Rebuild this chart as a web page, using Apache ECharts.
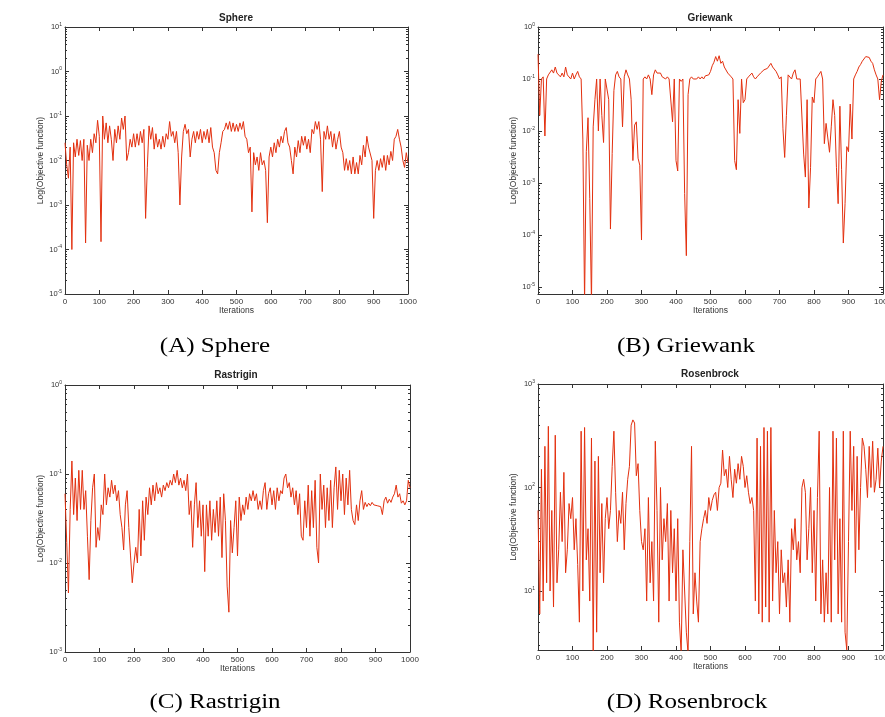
<!DOCTYPE html>
<html><head><meta charset="utf-8">
<script src="https://cdn.jsdelivr.net/npm/echarts@6/dist/echarts.min.js"></script>
<style>html,body{margin:0;padding:0;background:#fff}#c{width:885px;height:717px}</style>
</head><body><div id="c"></div>
<script>
// Objective values, one per 5 iterations (iteration = index * 5), 0..1000
const sphereValues = [
0.025,0.008,0.004,0.02,0.0001,0.025,0.012,0.03,0.013,0.028,0.01,0.03,0.00014,0.022,0.01,0.03,0.015,0.04,0.025,0.08,
0.035,0.00015,0.1,0.03,0.07,0.025,0.06,0.03,0.01,0.05,0.025,0.06,0.03,0.09,0.05,0.1,0.01,0.015,0.03,0.02,
0.04,0.02,0.04,0.022,0.045,0.025,0.05,0.0005,0.007,0.06,0.03,0.055,0.018,0.04,0.02,0.03,0.018,0.035,0.02,0.04,
0.03,0.075,0.035,0.045,0.025,0.045,0.015,0.001,0.012,0.045,0.065,0.04,0.05,0.012,0.03,0.045,0.025,0.045,0.03,0.05,
0.025,0.045,0.03,0.05,0.025,0.055,0.02,0.015,0.006,0.005,0.015,0.025,0.045,0.05,0.07,0.05,0.075,0.045,0.07,0.045,
0.065,0.045,0.07,0.05,0.075,0.035,0.03,0.015,0.02,0.0007,0.015,0.008,0.012,0.006,0.015,0.008,0.01,0.006,0.0004,0.012,
0.02,0.012,0.025,0.015,0.03,0.02,0.035,0.025,0.045,0.055,0.025,0.02,0.01,0.005,0.02,0.012,0.028,0.015,0.035,0.022,
0.035,0.018,0.03,0.015,0.05,0.04,0.075,0.05,0.075,0.03,0.002,0.045,0.03,0.06,0.03,0.045,0.02,0.04,0.018,0.03,
0.045,0.02,0.015,0.006,0.011,0.006,0.01,0.005,0.012,0.005,0.009,0.005,0.013,0.008,0.022,0.012,0.035,0.02,0.022,0.01,
0.0005,0.006,0.01,0.006,0.011,0.007,0.013,0.006,0.013,0.008,0.016,0.01,0.03,0.035,0.05,0.03,0.02,0.01,0.007,0.015,
0.009];
const griewankValues = [
0.3,0.02,0.1,0.11,0.008,0.1,0.12,0.11,0.15,0.13,0.17,0.13,0.12,0.11,0.13,0.11,0.17,0.12,0.13,0.1,
0.13,0.1,0.12,0.14,0.11,0.1,0.007,0.000005,0.004,0.018,0.0005,0.000005,0.012,0.04,0.1,0.01,0.1,0.02,0.006,0.1,
0.1,0.04,0.00013,0.0037,0.06,0.12,0.14,0.11,0.1,0.012,0.11,0.15,0.12,0.1,0.04,0.0027,0.013,0.015,0.003,0.0022,
0.00008,0.1,0.11,0.1,0.12,0.1,0.05,0.12,0.15,0.13,0.12,0.13,0.11,0.12,0.1,0.11,0.1,0.1,0.015,0.1,
0.0027,0.0017,0.1,0.09,0.1,0.00063,0.00004,0.05,0.1,0.11,0.1,0.105,0.1,0.11,0.1,0.11,0.1,0.115,0.11,0.12,
0.14,0.18,0.21,0.27,0.22,0.28,0.2,0.22,0.17,0.16,0.13,0.12,0.11,0.1,0.0027,0.0018,0.04,0.009,0.1,0.035,
0.04,0.1,0.11,0.12,0.13,0.11,0.1,0.11,0.12,0.13,0.14,0.15,0.14,0.16,0.17,0.2,0.17,0.16,0.14,0.12,
0.1,0.11,0.011,0.0031,0.02,0.12,0.11,0.1,0.13,0.15,0.1,0.1,0.1,0.1,0.0036,0.0013,0.04,0.00033,0.002,0.045,
0.035,0.1,0.11,0.12,0.14,0.1,0.0057,0.014,0.013,0.0039,0.012,0.04,0.02,0.002,0.0004,0.03,0.0018,0.00007,0.0004,0.005,
0.004,0.033,0.007,0.1,0.12,0.14,0.17,0.19,0.22,0.24,0.27,0.25,0.26,0.22,0.2,0.15,0.12,0.1,0.04,0.09,
0.12];
const rastriginValues = [
0.06,0.017,0.0046,0.04,0.14,0.035,0.09,0.03,0.11,0.04,0.11,0.04,0.065,0.02,0.0065,0.03,0.07,0.1,0.015,0.025,
0.018,0.045,0.035,0.1,0.045,0.07,0.055,0.085,0.06,0.075,0.05,0.065,0.035,0.025,0.014,0.045,0.065,0.025,0.012,0.006,
0.01,0.015,0.01,0.04,0.012,0.05,0.018,0.055,0.035,0.07,0.045,0.075,0.05,0.08,0.06,0.07,0.055,0.075,0.065,0.08,
0.07,0.085,0.075,0.1,0.08,0.11,0.075,0.09,0.07,0.085,0.065,0.1,0.035,0.05,0.015,0.045,0.08,0.025,0.05,0.02,
0.045,0.008,0.045,0.02,0.05,0.018,0.04,0.022,0.05,0.02,0.055,0.0115,0.06,0.03,0.0055,0.0028,0.03,0.013,0.025,0.05,
0.012,0.055,0.03,0.045,0.035,0.055,0.04,0.06,0.05,0.065,0.05,0.06,0.04,0.05,0.04,0.065,0.08,0.04,0.06,0.07,
0.045,0.065,0.04,0.07,0.05,0.065,0.06,0.09,0.1,0.07,0.08,0.055,0.07,0.045,0.065,0.035,0.06,0.02,0.018,0.05,
0.025,0.075,0.02,0.065,0.025,0.085,0.015,0.01,0.1,0.04,0.075,0.025,0.07,0.03,0.085,0.025,0.07,0.12,0.04,0.11,
0.05,0.1,0.035,0.09,0.045,0.11,0.04,0.03,0.027,0.045,0.03,0.05,0.065,0.04,0.048,0.043,0.047,0.044,0.048,0.045,
0.047,0.044,0.046,0.043,0.035,0.05,0.055,0.047,0.052,0.048,0.055,0.06,0.075,0.055,0.06,0.047,0.05,0.045,0.05,0.085,
0.07];
const rosenbrockValues = [
60,6,150,8,250,12,390,10,60,7,320,12,25,90,30,140,15,25,70,50,
80,25,50,18,5,350,10,380,20,40,8,300,2.5,180,4,200,15,70,12,50,
80,40,60,160,350,90,30,60,45,90,25,70,120,160,400,450,420,130,170,60,
30,25,40,8,80,12,30,8,280,60,5,100,20,50,30,70,8,60,15,40,
8,50,5,2.5,25,10,4,2.5,30,250,6,15,8,5,30,40,50,60,45,80,
60,75,85,90,60,100,110,230,130,150,100,200,120,80,150,110,170,120,200,160,
100,130,90,70,80,60,8,300,6,250,5,380,7,350,5,380,8,60,15,30,
6,25,12,15,7,20,5,40,25,50,20,30,15,100,120,90,20,40,100,15,
60,8,80,350,6,20,5,15,6,100,5,350,20,300,6,50,5,350,4,2.7,
30,350,60,250,15,200,25,100,300,250,150,80,250,100,280,90,120,240,100,180,
250];
const iterationStep = 5;
const sphereExponents = [-5,-4,-3,-2,-1,0,1];
const griewankExponents = [-5,-4,-3,-2,-1,0];
const rastriginExponents = [-3,-2,-1,0];
const rosenbrockExponents = [1,2,3];
const titles = ['Sphere','Griewank','Rastrigin','Rosenbrock'];
const captions = ['(A) Sphere','(B) Griewank','(C) Rastrigin','(D) Rosenbrock'];

const panels = [
  {values: sphereValues, exps: sphereExponents, yMin: -5, yMax: 1, g: [65, 27, 343, 267], tx: 236, ty: 13, cx: 215, cy: 347},
  {values: griewankValues, exps: griewankExponents, yMin: -5.135, yMax: 0, g: [538, 27, 345, 267], tx: 710, ty: 13, cx: 686, cy: 347},
  {values: rastriginValues, exps: rastriginExponents, yMin: -3, yMax: 0, g: [65, 385, 345, 267], tx: 236, ty: 370, cx: 215, cy: 703},
  {values: rosenbrockValues, exps: rosenbrockExponents, yMin: 0.43, yMax: 3, g: [538, 384, 345, 266], tx: 710, ty: 369, cx: 687, cy: 703}
];

function minorTicks(lo, hi) {
  const out = [];
  for (let d = Math.floor(lo); d < Math.ceil(hi); d++) {
    for (let k = 2; k <= 9; k++) {
      const t = d + Math.log10(k);
      if (t > lo && t < hi) out.push(t);
    }
  }
  return out;
}

const SANS = 'Liberation Sans, Arial, Helvetica, sans-serif';
const AX = '#333';
const option = {animation: false, backgroundColor: '#fff', title: [], grid: [], xAxis: [], yAxis: [], series: [], graphic: []};

panels.forEach((p, i) => {
  option.grid.push({left: p.g[0], top: p.g[1], width: p.g[2], height: p.g[3], containLabel: false, outerBoundsMode: 'none'});
  const axisLine = {show: true, onZero: false, lineStyle: {color: AX, width: 1}};
  const noLine = {show: false, onZero: false};
  const xBase = {gridIndex: i, type: 'value', min: 0, max: 1000, interval: 100, splitLine: {show: false}, axisLine};
  option.xAxis.push(Object.assign({}, xBase, {
    position: 'bottom',
    axisTick: {inside: true, length: 4, lineStyle: {color: AX}},
    axisLabel: {fontSize: 8, color: '#333', margin: 4, fontFamily: SANS, formatter: v => String(v)},
    name: 'Iterations', nameLocation: 'middle', nameGap: 12, nameMoveOverlap: false,
    nameTextStyle: {fontSize: 8.5, color: '#333', fontFamily: SANS}
  }));
  option.xAxis.push(Object.assign({}, xBase, {
    position: 'top', axisTick: {inside: true, length: 4, lineStyle: {color: AX}}, axisLabel: {show: false}
  }));
  const minor = minorTicks(p.yMin, p.yMax);
  const yBase = {gridIndex: i, type: 'value', min: p.yMin, max: p.yMax, splitLine: {show: false}};
  option.yAxis.push(Object.assign({}, yBase, {
    position: 'left', axisLine,
    axisTick: {inside: true, length: 4, customValues: p.exps, lineStyle: {color: AX}},
    axisLabel: {customValues: p.exps, margin: 3, formatter: v => '{b|10}{e|' + Math.round(v) + '}',
      rich: {b: {fontSize: 7.5, color: '#333', fontFamily: SANS}, e: {fontSize: 5, color: '#333', fontFamily: SANS, padding: [0, 0, 5, 0]}}},
    name: 'Log(Objective function)', nameLocation: 'middle', nameGap: 20, nameRotate: 90, nameMoveOverlap: false,
    nameTextStyle: {fontSize: 8.5, color: '#333', fontFamily: SANS}
  }));
  option.yAxis.push(Object.assign({}, yBase, {
    position: 'left', axisLine: noLine,
    axisTick: {inside: true, length: 2, customValues: minor, lineStyle: {color: AX}}, axisLabel: {show: false}
  }));
  option.yAxis.push(Object.assign({}, yBase, {
    position: 'right', axisLine,
    axisTick: {inside: true, length: 4, customValues: p.exps, lineStyle: {color: AX}}, axisLabel: {show: false}
  }));
  option.yAxis.push(Object.assign({}, yBase, {
    position: 'right', axisLine: noLine,
    axisTick: {inside: true, length: 2, customValues: minor, lineStyle: {color: AX}}, axisLabel: {show: false}
  }));
  option.series.push({
    type: 'line', xAxisIndex: i * 2, yAxisIndex: i * 4,
    data: p.values.map((v, k) => [k * iterationStep, Math.log10(v)]),
    showSymbol: false, symbol: 'none', clip: true, silent: true,
    lineStyle: {width: 1, color: '#e3300f'}
  });
  option.title.push({
    text: titles[i], left: p.tx, top: p.ty, textAlign: 'center', padding: 0,
    textStyle: {fontSize: 10, fontWeight: 'bold', color: '#222', fontFamily: SANS}
  });
  option.graphic.push({
    type: 'text', x: p.cx, y: p.cy, scaleX: 1.25,
    style: {text: captions[i], fontSize: 20, fontFamily: 'Liberation Serif, Times New Roman, serif', fill: '#000', align: 'center', verticalAlign: 'middle'}
  });
});

const chart = echarts.init(document.getElementById('c'), null, {renderer: 'canvas'});
chart.setOption(option);
</script>
</body></html>
